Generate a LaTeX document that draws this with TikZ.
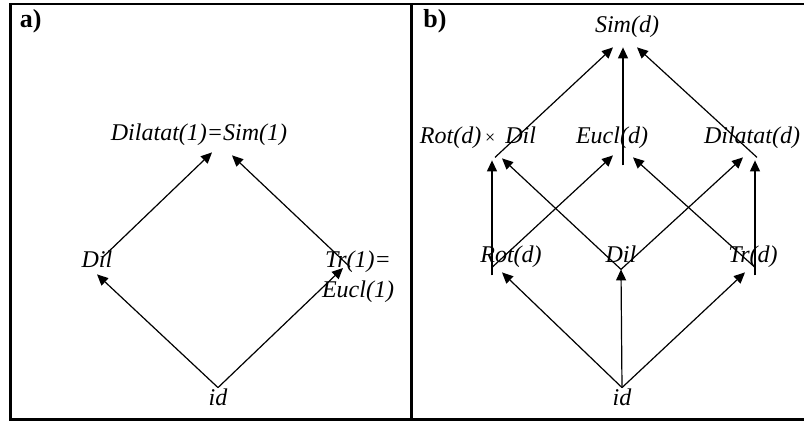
\documentclass[tikz,border=0pt]{standalone}
\usepackage{fontspec}
\setmainfont{Liberation Serif}
\usepackage{tikz}
\usetikzlibrary{arrows.meta}

\begin{document}
\begin{tikzpicture}[x=0.5pt,y=-0.5pt,
  lbl/.style={font=\fontsize{12}{15}\selectfont\itshape,inner sep=0pt,text height=9pt,text depth=3pt},
  tag/.style={font=\fontsize{13}{15}\selectfont\bfseries,inner sep=0pt,anchor=base west},
  arr/.style={-{Triangle[length=5.5pt,width=5pt]},line width=0.6pt},
  frame/.style={line width=1.4pt}]
\useasboundingbox (0,0) rectangle (804,421);
\draw[frame] (804,4) -- (10.5,4) -- (10.5,419.5) -- (804,419.5);
\draw[frame] (411.5,4) -- (411.5,419.5);
% a)
\node[tag] (taga) at (19.5,27.5) {a)};
\node[lbl] (sima) at (199,135) {Dilatat(1)=Sim(1)};
\node[lbl] (dila) at (97,262) {Dil};
\node[lbl] (tra) at (358,262) {Tr(1)=};
\node[lbl] (eucla) at (358,292) {Eucl(1)};
\node[lbl] (ida) at (218,400) {id};
\draw[arr] (ida.north) -- (dila.south);
\draw[arr] (ida.north) -- ([xshift=-7.5pt,yshift=-3pt]tra.center);
\draw[arr] ([xshift=3pt,yshift=2.5pt]dila.center) -- ([xshift=6.5pt,yshift=-2.5pt]sima.south);
\draw[arr] ([xshift=-4pt,yshift=-2.5pt]tra.center) -- ([xshift=16.5pt,yshift=-4pt]sima.south);
% b)
\node[tag] (tagb) at (423,27.5) {b)};
\node[lbl] (simb) at (627,27) {Sim(d)};
\node[lbl] (rotdil) at (478,138) {Rot(d)\,{\fontsize{9}{9}\selectfont\upshape ×}\, Dil};
\node[lbl] (euclb) at (612,138) {Eucl(d)};
\node[lbl] (dilb) at (752,138) {Dilatat(d)};
\node[lbl] (rotb) at (511,257) {Rot(d)};
\node[lbl] (dilc) at (621,257) {Dil};
\node[lbl] (trb) at (753,257) {Tr(d)};
\node[lbl] (idb) at (622,400) {id};
\draw[arr] (idb.north) -- ([xshift=-4.5pt,yshift=-1.5pt]rotb.south);
\draw[arr] (idb.north) -- (dilc.south);
\draw[arr] (idb.north) -- ([xshift=-4pt,yshift=-1.5pt]trb.south);
\draw[arr] ([xshift=-9.5pt,yshift=-3pt]rotb.south) -- ([xshift=7pt,yshift=-5pt]rotdil.south);
\draw[arr] ([xshift=-9.5pt,yshift=1pt]rotb.south) -- ([xshift=0.5pt,yshift=-2.5pt]euclb.south);
\draw[arr] (dilc.south) -- ([xshift=12pt,yshift=-4pt]rotdil.south);
\draw[arr] (dilc.south) -- ([xshift=-4.5pt,yshift=-3.5pt]dilb.south);
\draw[arr] ([xshift=1pt,yshift=1pt]trb.south) -- ([xshift=10.5pt,yshift=-3.5pt]euclb.south);
\draw[arr] ([xshift=1pt,yshift=-3pt]trb.south) -- ([xshift=1.5pt,yshift=-5pt]dilb.south);
\draw[arr] ([xshift=8.5pt,yshift=-3.5pt]rotdil.south) -- ([xshift=-7pt,yshift=-4pt]simb.south);
\draw[arr] ([xshift=5.5pt,yshift=-7.5pt]euclb.south) -- ([xshift=-2pt,yshift=-4pt]simb.south);
\draw[arr] ([xshift=2.5pt,yshift=-3.5pt]dilb.south) -- ([xshift=5pt,yshift=-4pt]simb.south);
\end{tikzpicture}
\end{document}
